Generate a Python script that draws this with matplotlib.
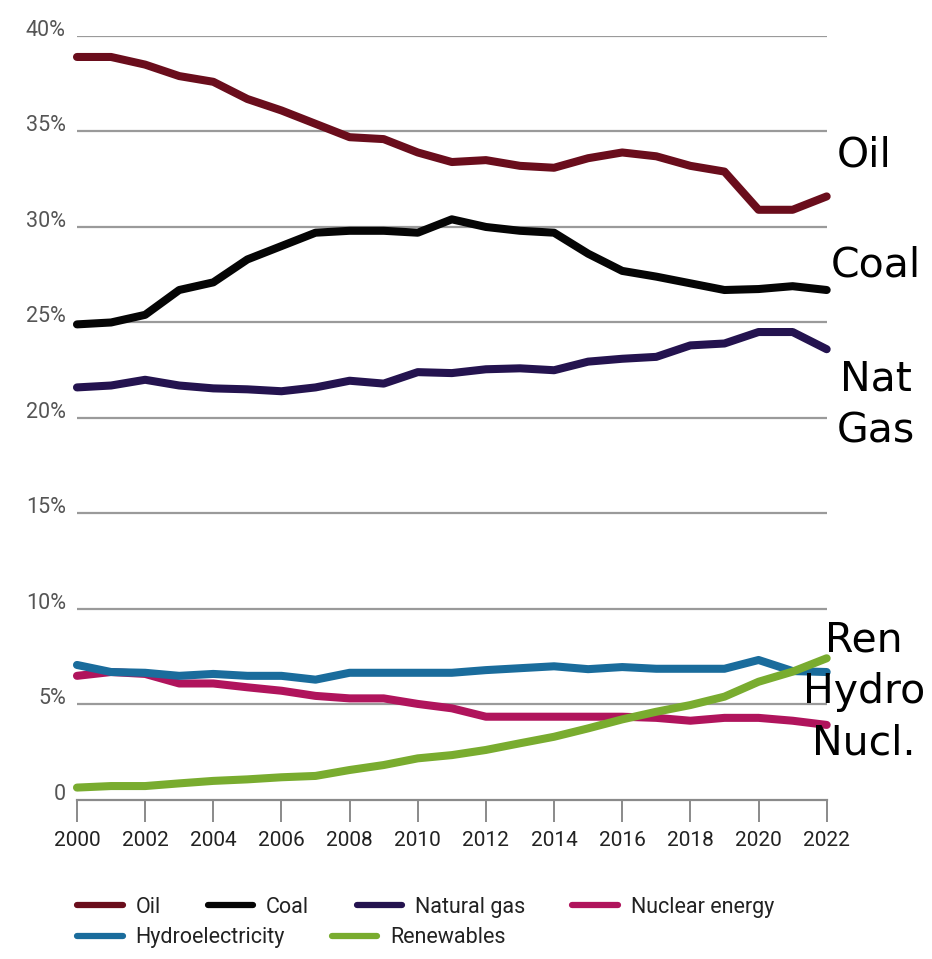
import matplotlib.pyplot as plt
from matplotlib.transforms import ScaledTranslation

# Share of global primary energy consumption by source, 2000-2022 (%)
years = list(range(2000, 2023))
oil = [38.9, 38.9, 38.5, 37.9, 37.6, 36.7, 36.1, 35.4, 34.7, 34.6, 33.9, 33.4,
       33.5, 33.2, 33.1, 33.6, 33.9, 33.7, 33.2, 32.9, 30.9, 30.9, 31.6]
coal = [24.9, 25.0, 25.4, 26.7, 27.1, 28.3, 29.0, 29.7, 29.8, 29.8, 29.7, 30.4,
        30.0, 29.8, 29.7, 28.6, 27.7, 27.4, 27.05, 26.7, 26.75, 26.9, 26.7]
natural_gas = [21.6, 21.7, 22.0, 21.7, 21.55, 21.5, 21.4, 21.6, 21.95, 21.8, 22.4, 22.35,
               22.55, 22.6, 22.5, 22.95, 23.1, 23.2, 23.8, 23.9, 24.5, 24.5, 23.6]
nuclear = [6.5, 6.7, 6.6, 6.1, 6.1, 5.9, 5.72, 5.45, 5.32, 5.32, 5.03, 4.8,
           4.36, 4.36, 4.36, 4.36, 4.36, 4.3, 4.15, 4.3, 4.3, 4.15, 3.93]
hydro = [7.07, 6.7, 6.66, 6.5, 6.6, 6.5, 6.5, 6.3, 6.66, 6.66, 6.66, 6.66,
         6.8, 6.9, 7.0, 6.85, 6.96, 6.87, 6.87, 6.87, 7.33, 6.75, 6.7]
renewables = [0.65, 0.73, 0.73, 0.87, 1.0, 1.08, 1.19, 1.26, 1.57, 1.83, 2.18, 2.35,
              2.62, 2.97, 3.31, 3.75, 4.22, 4.62, 4.97, 5.41, 6.19, 6.72, 7.42]

series = [
    ('Oil', oil, '#6a0d1c'),
    ('Coal', coal, '#050505'),
    ('Natural gas', natural_gas, '#24134f'),
    ('Nuclear energy', nuclear, '#b0145c'),
    ('Hydroelectricity', hydro, '#1a6c9c'),
    ('Renewables', renewables, '#79ac2f'),
]

# labels written next to the line ends: (text, x, y)
end_labels = [
    ('Oil', 2023.1, 33.75),
    ('Coal', 2023.45, 28.0),
    ('Nat\nGas', 2023.45, 20.65),
    ('Ren\nHydro\nNucl.', 2023.1, 5.65),
]

ytick_vals = [0, 5, 10, 15, 20, 25, 30, 35, 40]
ytick_labels = ['0', '5%', '10%', '15%', '20%', '25%', '30%', '35%', '40%']
xtick_vals = list(range(2000, 2023, 2))

fig = plt.figure(figsize=(9.32, 9.59), dpi=100)
ax = fig.add_axes([0.0826, 0.1658, 0.8044, 0.7967])

handles = []
for name, vals, col in series:
    h, = ax.plot(years, vals, color=col, lw=5.8, solid_capstyle='round',
                 solid_joinstyle='round', label=name, clip_on=False, zorder=3)
    handles.append(h)

ax.set_xlim(2000, 2022)
ax.set_ylim(0, 40)

for v in ytick_vals[1:]:
    ax.axhline(v, color='#9a9a9a', lw=1.6, zorder=1)

for s in ['top', 'right', 'left']:
    ax.spines[s].set_visible(False)
ax.spines['bottom'].set_color('#8a8a8a')
ax.spines['bottom'].set_linewidth(1.6)

ax.set_yticks(ytick_vals)
ax.set_yticklabels(ytick_labels, color='#555555', family=['Roboto', 'DejaVu Sans'], size=15.5)
ax.tick_params(axis='y', length=0, pad=8)
shift = ScaledTranslation(0, 8 / 100, fig.dpi_scale_trans)
for lab in ax.get_yticklabels():
    lab.set_transform(lab.get_transform() + shift)

ax.set_xticks(xtick_vals)
ax.set_xticklabels([str(y) for y in xtick_vals], color='#222222',
                   family=['Roboto', 'DejaVu Sans'], size=15)
ax.tick_params(axis='x', direction='out', length=16, width=1.4, color='#8a8a8a', pad=6)

for txt, x, y in end_labels:
    ax.text(x, y, txt, ha='center', va='center', fontsize=29.5,
            family='DejaVu Sans', color='black', linespacing=1.38, clip_on=False)

leg_kw = dict(frameon=False, loc='center left', borderpad=0, borderaxespad=0,
              handlelength=2.1, handletextpad=0.6, columnspacing=2.2,
              prop={'family': ['Roboto', 'DejaVu Sans'], 'size': 15.5})
leg1 = fig.legend(handles=handles[:4], ncol=4, bbox_to_anchor=(0.083, 0.054), **leg_kw)
leg2 = fig.legend(handles=handles[4:], ncol=2, bbox_to_anchor=(0.083, 0.022), **leg_kw)
for leg in (leg1, leg2):
    for ln in leg.get_lines():
        ln.set_linewidth(4.5)
    for t in leg.get_texts():
        t.set_color('#222222')

fig.savefig('out.png', dpi=100)
